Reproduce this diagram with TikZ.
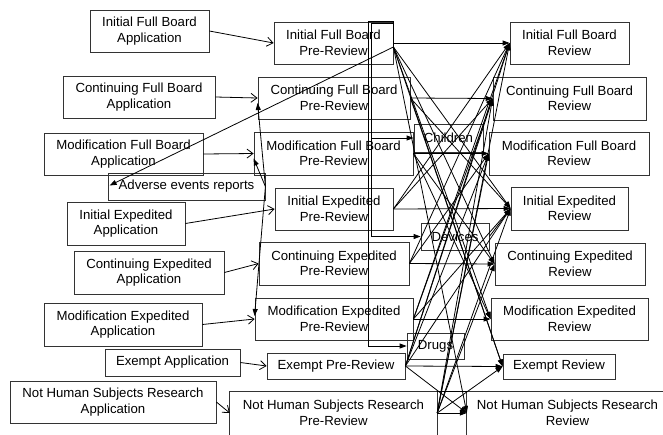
\documentclass[tikz,border=0pt]{standalone}
\usepackage{fontspec}
\setmainfont{Liberation Sans}
\usetikzlibrary{arrows.meta,calc}
\begin{document}
\begin{tikzpicture}[x=1pt,y=-1pt,
  box/.style={draw=black!80,line width=0.8pt,align=center,inner sep=0pt,
    font=\fontsize{13.2}{15.5}\selectfont},
  sz/.style 2 args={minimum width=#1,minimum height=#2},
  txt/.style={align=center,inner sep=0pt,font=\fontsize{13.2}{15.5}\selectfont},
  link/.style={draw=black,line width=0.8pt},
  vee/.style={link,-{Straight Barb[length=6pt,width=9pt]}},
  tri/.style={link,-{Triangle[length=7pt,width=5pt]}},
]
\useasboundingbox (0,0) rectangle (663,434);

% applications
\node[box,sz={119}{42}] (a1) at (149.5,31)  {Initial Full Board\\Application};
\node[box,sz={152}{42}] (a2) at (139,97)    {Continuing Full Board\\Application};
\node[box,sz={159}{42}] (a3) at (123.5,154) {Modification Full Board\\Application};
\node[box,sz={157}{27}] (ae) at (186.5,186.5) {Adverse events reports};
\node[box,sz={118}{43}] (a4) at (126,223.5) {Initial Expedited\\Application};
\node[box,sz={150}{43}] (a5) at (149,272.5) {Continuing Expedited\\Application};
\node[box,sz={158}{43}] (a6) at (123,324.5) {Modification Expedited\\Application};
\node[box,sz={135}{27}] (a7) at (172.5,362.5) {Exempt Application};
\node[box,sz={206}{42}] (a8) at (113,402)   {Not Human Subjects Research\\Application};

% pre-reviews
\node[box,sz={119}{42}] (p1) at (333.5,43)  {Initial Full Board\\Pre-Review};
\node[box,sz={152}{42}] (p2) at (334,98)    {Continuing Full Board\\Pre-Review};
\node[box,sz={159}{43}] (p3) at (333.5,153.5) {Modification Full Board\\Pre-Review};
\node[box,sz={118}{42}] (p4) at (334,209)   {Initial Expedited\\Pre-Review};
\node[box,sz={150}{43}] (p5) at (334,263.5) {Continuing Expedited\\Pre-Review};
\node[box,sz={158}{42}] (p6) at (334,319)   {Modification Expedited\\Pre-Review};
\node[box,sz={138}{26}] (p7) at (336,366)   {Exempt Pre-Review};
\node[txt,sz={207}{42}] (p8) at (333.5,413) {Not Human Subjects Research\\Pre-Review};
\draw[box] ($(p8.south west)+(0,20)$) |- (p8.north east) -- ($(p8.south east)+(0,20)$);

% reviews
\node[box,sz={119}{42}] (r1) at (569.5,43)  {Initial Full Board\\Review};
\node[box,sz={153}{43}] (r2) at (569.5,98.5) {Continuing Full Board\\Review};
\node[box,sz={160}{43}] (r3) at (569,153.5) {Modification Full Board\\Review};
\node[box,sz={117}{43}] (r4) at (569.5,208.5) {Initial Expedited\\Review};
\node[box,sz={150}{42}] (r5) at (570,264)   {Continuing Expedited\\Review};
\node[box,sz={157}{42}] (r6) at (569.5,319) {Modification Expedited\\Review};
\node[box,sz={112}{25}] (r7) at (559,366.5) {Exempt Review};
\node[txt,sz={201}{42}] (r8) at (567.5,413) {Not Human Subjects Research\\Review};
\draw[box] ($(r8.south west)+(0,20)$) |- (r8.north east) -- ($(r8.south east)+(0,20)$);

% special categories
\node[box,sz={69}{28}] (ch) at (448.5,138) {Children};
\node[box,sz={68}{27}] (dv) at (455,236.5) {Devices};
\node[box,sz={57}{26}] (dr) at (435.5,346) {Drugs};

% applications into pre-review
\draw[vee] (a1.east) -- (p1.west);
\draw[vee] (a2.east) -- (p2.west);
\draw[vee] (a3.east) -- (p3.west);
\draw[vee] (a4.east) -- (p4.west);
\draw[vee] (a5.east) -- (p5.west);
\draw[vee] (a6.east) -- (p6.west);
\draw[vee] (a7.east) -- (p7.west);
\draw[vee] (a8.east) -- (p8.west);

% adverse events
\coordinate (p1o) at ($(p1.east)+(0,4)$);
\draw[tri] (p1o) -- ($(ae.west)+(2,-1)$);
\draw[tri] (ae.east) -- ($(p2.west)+(0,5)$);
\draw[tri] (ae.east) -- ($(p3.west)+(0,5)$);
\draw[tri] (ae.east) -- ($(p6.west)+(0,-3)$);

% routing to the special categories
\coordinate (busA) at (368,21);
\coordinate (busB) at (371,23);
\draw[tri] (p1o) |- (busB) |- (ch.west);
\draw[tri] (p1o) |- (busB) |- (dv.west);
\draw[tri] (p1o) |- (busA) |- (dr.west);

% pre-review to matching review
\draw[tri] (p1.east) -- (r1.west);
\draw[tri] (p2.east) -- (r2.west);
\draw[tri] (p3.east) -- (r3.west);
\draw[tri] (p4.east) -- (r4.west);
\draw[tri] (p5.east) -- (r5.west);
\draw[tri] (p6.east) -- (r6.west);
\draw[tri] (p7.east) -- (r7.west);
\draw[tri] (p8.east) -- (r8.west);
\draw[link] (p8.north east) -- (r8.north west);

% pre-review to other reviews
\foreach \t in {r4,r5,r6,r7,r8} \draw[tri] (p1o) -- (\t.west);
\foreach \t in {r4,r7} \draw[tri] (p2.east) -- (\t.west);
\foreach \t in {r5,r6} \draw[tri] (p3.east) -- (\t.west);
\foreach \t in {r1,r2} \draw[tri] (p4.east) -- (\t.west);
\draw[tri] (dv.east) -- (r4.west);
\foreach \t in {r1,r3} \draw[tri] (p5.east) -- (\t.west);
\foreach \t in {r1,r2,r4} \draw[tri] (p6.east) -- (\t.west);
\foreach \t in {r1,r2,r3,r4,r8} \draw[tri] (p7.east) -- (\t.west);
\foreach \t in {r1,r2,r3,r4,r5,r7} \draw[tri] (p8.east) -- (\t.west);
\end{tikzpicture}
\end{document}
